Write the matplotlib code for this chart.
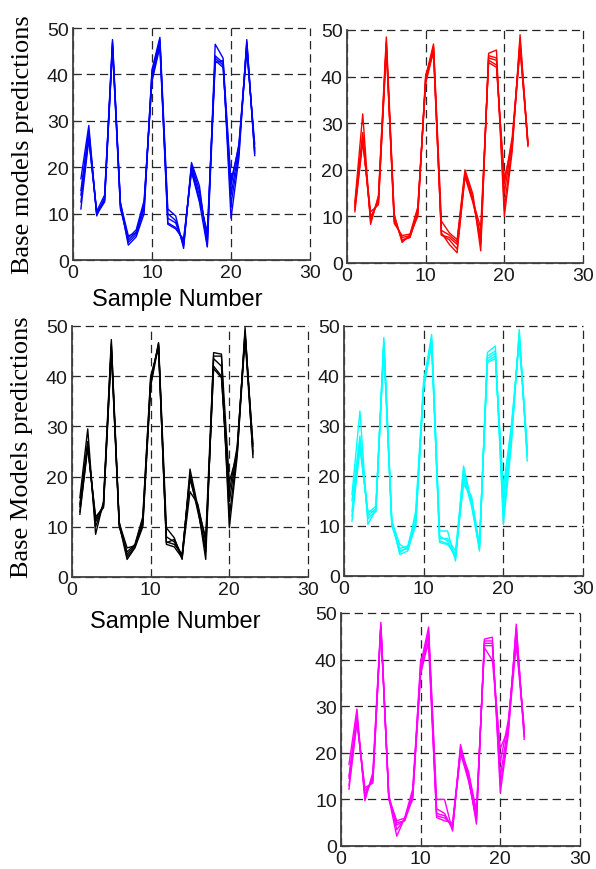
import matplotlib
matplotlib.use("Agg")
import matplotlib.pyplot as plt

plt.rcParams['lines.scale_dashes'] = False

samples = list(range(1, 24))
x_ticks = [0, 10, 20, 30]
y_ticks = [0, 10, 20, 30, 40, 50]

blue_preds = [
    [17.5, 29, 9.5, 13.5, 47.5, 12, 3.2, 5, 10, 41, 48, 11, 9.5, 2.5, 21, 16, 3, 46.5, 43.5, 9, 22, 47.5, 22.5],
    [15, 28, 10, 13, 47, 11.5, 3.8, 5.5, 11, 40, 47, 10, 8.5, 3, 20.5, 15, 4, 44, 42.5, 12, 23, 47, 23],
    [14, 27, 9.8, 12.5, 46.5, 12.5, 4.3, 6, 12, 39, 46.5, 9, 8, 3.5, 20, 14, 5, 43.5, 42, 14, 24, 46.5, 23.5],
    [12.5, 26.5, 10.5, 14, 46, 11, 4.8, 6.5, 12.8, 38.5, 46, 8, 7, 4, 19.5, 13, 6, 43, 41.5, 16, 25, 46, 24],
    [11, 26, 10.2, 12.8, 45.5, 12.2, 5.2, 5.8, 11.5, 40.5, 47.5, 7.7, 6.7, 4.5, 19, 12.5, 2.8, 42.5, 43, 17, 24.5, 45, 25],
]
red_preds = [
    [13, 32, 8.3, 14.5, 48.5, 10.5, 4.4, 6, 10, 40, 47, 9, 6.5, 5, 20, 14.8, 2.6, 45, 45.7, 10, 24, 49, 25],
    [12.5, 28, 9, 14, 47.5, 9.5, 5, 5.5, 11, 39.5, 46.5, 7, 6, 4.5, 19.5, 14, 4, 44.5, 44, 12, 25, 48, 25.5],
    [12, 27, 9.5, 13.5, 47, 9, 5.5, 5.8, 11.5, 39, 46, 6, 5.5, 4, 19, 13.5, 5, 44, 43.5, 15, 26, 47, 26],
    [11.5, 26.5, 10, 13, 46.5, 8.5, 5.9, 6.2, 12, 38.5, 45.5, 6, 5, 3, 18.5, 13, 6, 43.5, 42.5, 17, 27, 46.5, 25.3],
    [11, 26, 11, 12.5, 46, 10, 4.8, 5.5, 10.5, 40.3, 45, 6.5, 4, 2.2, 19, 13.4, 7.5, 43, 42, 18, 25.5, 46, 25.8],
]
black_preds = [
    [15.8, 29.5, 8.5, 15, 47.3, 10.5, 3.5, 5.8, 10, 38.4, 46.7, 9.8, 7.8, 3.5, 21.5, 14, 3.5, 44.7, 44.4, 9.8, 24, 49.7, 23.8],
    [14.5, 27, 10, 14.5, 46.5, 11, 4, 6, 11, 39, 46.5, 8, 7, 4, 20.5, 13.5, 5, 43.5, 42, 12, 25, 49, 25],
    [14, 26.5, 11, 14, 46, 10.5, 4.5, 6.3, 11.5, 39.5, 46, 7, 6.5, 4.5, 20, 13, 6, 42, 40, 15, 25.5, 48.5, 26],
    [13, 26, 11.5, 14.3, 45.5, 10, 5, 6.5, 12, 40, 45.7, 6.5, 6, 3.8, 17, 14.5, 7, 41.5, 39.7, 17, 26, 48, 26.5],
    [12.5, 25.8, 12, 13.8, 45, 10.8, 5.8, 6.2, 10.5, 38, 46.2, 6.8, 7.5, 4.2, 19.5, 13.8, 7.8, 44, 44, 19, 24.5, 47.5, 24.5],
]
cyan_preds = [
    [16.3, 33, 10.3, 13.3, 47.7, 11, 4.3, 5, 10.3, 38.7, 48.3, 9, 9, 3, 22, 15, 5, 44.7, 46, 10.3, 26, 49.3, 23],
    [15, 28, 11.5, 13, 47, 10.5, 5, 5.5, 11, 38, 47.5, 8, 7, 3.5, 20, 14, 5.5, 44, 45, 12, 27, 48.5, 24],
    [13, 27, 12, 13.5, 46, 10, 5.5, 6, 12, 37.5, 47, 7, 6.5, 4, 19, 15.5, 6, 43.5, 44.5, 14, 28, 48, 25],
    [12, 26, 12.5, 14, 45.7, 11, 6.3, 5.3, 13, 39, 46.5, 6.7, 6.3, 4.5, 18.3, 16, 6.3, 43, 44, 16, 29, 47.5, 25.7],
    [11, 25.7, 13, 12.8, 46.5, 10.8, 4.7, 5.8, 10, 37.7, 46.3, 7.5, 7.5, 5, 21, 14.5, 5.8, 42.7, 43.5, 17.7, 30, 47, 24.5],
]
magenta_preds = [
    [17.5, 29.4, 9.7, 15.8, 48, 10.4, 2.1, 6.1, 12.2, 39, 47, 10, 10, 3.2, 21.8, 15, 4.7, 44.4, 44.8, 11.5, 24, 47.6, 22.9],
    [15, 28, 10.5, 15, 47.5, 11, 3.5, 5.8, 11.5, 38, 46, 8, 7, 3.5, 21, 14.5, 5.5, 44, 44, 13, 25, 47, 23.5],
    [14.5, 27.6, 11, 14.5, 47, 10, 4.5, 5.5, 11, 37.5, 45.5, 7, 6.5, 4, 20, 14, 6, 43.5, 43.5, 15, 26, 46, 24],
    [13, 27, 11.8, 14, 46.9, 10.6, 5, 5.4, 10.4, 36.9, 44, 6.5, 6, 4.5, 19.7, 15.5, 7, 43, 43, 18, 27, 44, 25.4],
    [12.2, 26.5, 12.5, 13.5, 47.3, 10.2, 5.4, 6, 10, 40, 43, 6.1, 5.4, 5, 20.5, 16, 7.5, 42.6, 39.8, 21, 25, 43.3, 24.5],
]

W, H = 596, 870
fig = plt.figure(figsize=(W / 100, H / 100), dpi=100)

def rect(l, r, t, b):
    return [l / W, 1 - b / H, (r - l) / W, (b - t) / H]

panels = [
    (rect(73, 310, 29, 261), blue_preds, (0, 0, 1)),
    (rect(347, 583, 31, 264), red_preds, (1, 0, 0)),
    (rect(72, 308, 327, 578), black_preds, (0, 0, 0)),
    (rect(344, 583, 327, 577), cyan_preds, (0, 1, 1)),
    (rect(341, 580, 614, 847), magenta_preds, (1, 0, 1)),
]

tick_font = dict(family=['Liberation Sans', 'DejaVu Sans'], size=14)
for r, preds, col in panels:
    ax = fig.add_axes(r)
    for line in preds:
        ax.plot(samples, line, color=col, lw=1.0)
    ax.set_xlim(0, 30)
    ax.set_ylim(0, 50)
    ax.set_xticks(x_ticks)
    ax.set_yticks(y_ticks)
    ax.set_xticklabels([str(v) for v in x_ticks], fontdict=tick_font, color='0.1')
    ax.set_yticklabels([str(v) for v in y_ticks], fontdict=tick_font, color='0.1')
    ax.tick_params(direction='in', length=3, width=0.8, color='0.2', pad=3)
    ax.spines['top'].set_visible(False)
    ax.spines['right'].set_visible(False)
    ax.spines['left'].set_color('0.25')
    ax.spines['bottom'].set_color('0.25')
    ax.spines['left'].set_linewidth(1.3)
    ax.spines['bottom'].set_linewidth(1.3)
    ax.grid(True, color='0.15', lw=0.9, linestyle=(0, (6, 3.5)))
    ax.set_axisbelow(True)
    for g in ax.get_xgridlines() + ax.get_ygridlines():
        g.set_clip_on(False)

serif = ['Liberation Serif', 'DejaVu Serif']
sans = ['Liberation Sans', 'DejaVu Sans']
fig.text(23 / W, 1 - 145 / H, 'Base models predictions', rotation=90,
         ha='center', va='center', family=serif, size=19)
fig.text(22 / W, 1 - 447 / H, 'Base Models predictions', rotation=90,
         ha='center', va='center', family=serif, size=19)
fig.text(177 / W, 1 - 300 / H, 'Sample Number', ha='center', va='center',
         family=sans, size=17)
fig.text(175 / W, 1 - 622 / H, 'Sample Number', ha='center', va='center',
         family=sans, size=17)

fig.savefig('out.png', dpi=100)
